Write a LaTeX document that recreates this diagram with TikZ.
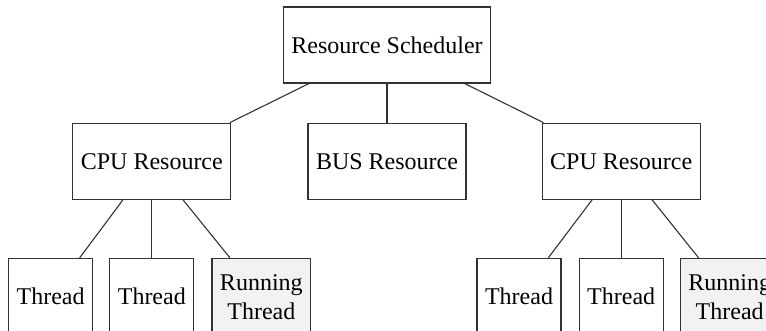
\documentclass[tikz,border=0pt]{standalone}
\usepackage{fontspec}
\setmainfont{Liberation Serif}
\usetikzlibrary{positioning}
\definecolor{ink}{RGB}{50,50,50}
\definecolor{busy}{RGB}{242,242,242}
\tikzset{
  res/.style={draw=ink,line width=0.6pt,inner xsep=4pt,minimum height=38pt,
    font=\fontsize{12}{14.5}\selectfont,align=center},
  thr/.style={res,minimum height=38.3pt},
  run/.style={thr,fill=busy},
  link/.style={draw=ink,line width=0.55pt},
}

\begin{document}
\begin{tikzpicture}[node distance=19.5pt and 38pt]
  \useasboundingbox (0,0) rectangle (383pt,-165.5pt);
  \node[res] (sched) at (193.5pt,-22.5pt) {Resource Scheduler};
  \node[res,below=of sched] (bus) {BUS Resource};
  \node[res,left=of bus] (cpuA) {CPU Resource};
  \node[res,right=37.5pt of bus] (cpuB) {CPU Resource};
  % threads of the left cpu
  \node[thr,below=29pt of cpuA] (thA2) {Thread};
  \node[thr,left=8pt of thA2] (thA1) {Thread};
  \node[run,right=8.5pt of thA2] (runA) {Running\\Thread};
  % threads of the right cpu
  \node[thr,below=29pt of cpuB] (thB2) {Thread};
  \node[thr,left=8.5pt of thB2] (thB1) {Thread};
  \node[run,right=8pt of thB2] (runB) {Running\\Thread};
  \draw[link] (sched) -- (cpuA); \draw[link] (sched) -- (bus);
  \draw[link] (sched) -- (cpuB);
  \foreach \t in {thA1,thA2,runA} \draw[link] (cpuA) -- (\t);
  \foreach \t in {thB1,thB2,runB} \draw[link] (cpuB) -- (\t);
\end{tikzpicture}
\end{document}
